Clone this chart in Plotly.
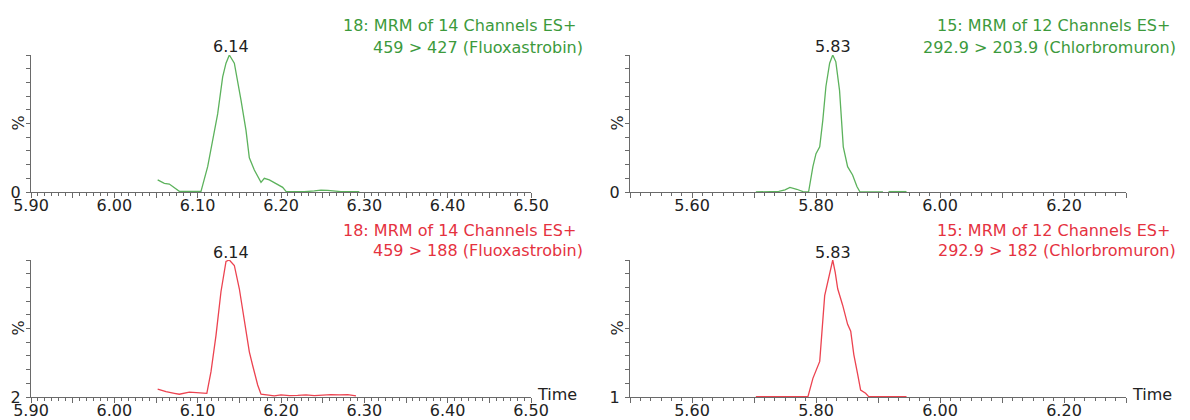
import plotly.graph_objects as go

# ---------------- data ----------------
t_fluo427 = [6.052, 6.060, 6.066, 6.074, 6.078, 6.090, 6.104, 6.112, 6.118, 6.124, 6.130, 6.134,
             6.138, 6.144, 6.152, 6.158, 6.162, 6.168, 6.176, 6.180, 6.186, 6.194, 6.202, 6.206,
             6.215, 6.228, 6.240, 6.248, 6.256, 6.264, 6.272, 6.282, 6.294]
i_fluo427 = [8.8, 6.3, 5.8, 2.0, 0.5, 0.4, 0.5, 18.5, 38, 57, 84, 94,
             100, 94, 67, 45, 25, 16, 7, 10, 8.8, 5.8, 3.4, 0.5,
             0.3, 0.2, 0.8, 1.4, 1.2, 0.6, 0.3, 0.2, 0.3]

t_fluo188 = [6.052, 6.062, 6.072, 6.078, 6.090, 6.100, 6.111, 6.116, 6.122, 6.128, 6.134, 6.138,
             6.144, 6.150, 6.156, 6.162, 6.166, 6.172, 6.176, 6.184, 6.192, 6.200, 6.210, 6.220,
             6.230, 6.240, 6.250, 6.260, 6.270, 6.280, 6.290]
i_fluo188 = [5.8, 3.9, 2.7, 2.0, 3.5, 3.0, 2.7, 18.5, 45, 77, 99, 100,
             96, 79, 57, 33, 23, 8.8, 2.0, 1.2, 0.8, 1.5, 1.0, 1.2,
             1.6, 1.0, 1.4, 1.8, 1.5, 1.8, 0.8]

t_chlor2039 = [5.703, 5.740, 5.750, 5.758, 5.769, 5.779, 5.788, 5.795, 5.800, 5.806, 5.811, 5.816,
               5.822, 5.827, 5.832, 5.838, 5.844, 5.851, 5.859, 5.866, 5.871, 5.890, 5.908, None,
               5.917, 5.946]
i_chlor2039 = [0.0, 0.5, 1.5, 3.4, 2.0, 0.3, 0.0, 18.5, 28, 33, 52.5, 77,
               94, 100, 95, 74, 33, 18.5, 12.4, 4.0, 0.0, 0.0, 0.0, None,
               0.3, 0.3]

t_chlor182 = [5.703, 5.730, 5.760, 5.787, 5.795, 5.803, 5.806, 5.814, 5.819, 5.827, 5.831, 5.835,
              5.843, 5.851, 5.856, 5.861, 5.867, 5.872, 5.880, 5.885, 5.910, 5.946]
i_chlor182 = [0.3, 0.2, 0.3, 0.2, 13.6, 23, 26, 74, 84, 100, 91, 79,
              67, 53, 48, 31, 17, 5, 2.7, 0.3, 0.3, 0.3]

peak_labels = ["6.14", "6.14", "5.83", "5.83"]
peak_times = [6.14, 6.14, 5.828, 5.828]
title_line1 = ["18: MRM of 14 Channels ES+", "18: MRM of 14 Channels ES+",
               "15: MRM of 12 Channels ES+", "15: MRM of 12 Channels ES+"]
title_line2 = ["459 > 427 (Fluoxastrobin)", "459 > 188 (Fluoxastrobin)",
               "292.9 > 203.9 (Chlorbromuron)", "292.9 > 182 (Chlorbromuron)"]
y_base_labels = ["0", "2", "0", "1"]
left_tick_vals = [5.90, 5.95, 6.00, 6.05, 6.10, 6.15, 6.20, 6.25, 6.30, 6.35, 6.40, 6.45, 6.50]
left_tick_text = ["5.90", "", "6.00", "", "6.10", "", "6.20", "", "6.30", "", "6.40", "", "6.50"]
right_tick_vals = [5.50, 5.60, 5.70, 5.80, 5.90, 6.00, 6.10, 6.20, 6.30]
right_tick_text = ["", "5.60", "", "5.80", "", "6.00", "", "6.20", ""]

# ---------------- styling ----------------
W, H = 1190, 420
FONT = "DejaVu Sans"
GREEN_TXT = "#3c9a3c"
GREEN_LINE = "#5cb25c"
RED_TXT = "#e5323f"
RED_LINE = "#ec4350"
AX = "#6a6a6a"

series = [
    (t_fluo427, i_fluo427, GREEN_LINE, GREEN_TXT),
    (t_fluo188, i_fluo188, RED_LINE, RED_TXT),
    (t_chlor2039, i_chlor2039, GREEN_LINE, GREEN_TXT),
    (t_chlor182, i_chlor182, RED_LINE, RED_TXT),
]

# pixel geometry of panels: (x_left, x_right, y_top, y_base)
panels = [
    (31, 531, 55, 192),
    (31, 531, 260, 397),
    (630, 1126, 55, 192),
    (630, 1126, 260, 397),
]
title_right = [(578, 585), (578, 585), (1172, 1178), (1172, 1178)]
title_y = [(25, 47), (230, 250), (25, 47), (230, 250)]

fig = go.Figure()
layout = dict(
    width=W, height=H, margin=dict(l=0, r=0, t=0, b=0, pad=0),
    paper_bgcolor="white", plot_bgcolor="white", showlegend=False,
    font=dict(family=FONT, size=16, color="#222222"),
)
annotations = []

for k, (tx, iy, lc, tc) in enumerate(series):
    n = "" if k == 0 else str(k + 1)
    xl, xr, yt, yb = panels[k]
    fig.add_trace(go.Scatter(x=tx, y=iy, mode="lines", line=dict(color=lc, width=1.3),
                             xaxis="x" + n, yaxis="y" + n, connectgaps=False,
                             hoverinfo="skip"))
    left = k < 2
    layout["xaxis" + n] = dict(
        domain=[xl / W, xr / W], anchor="y" + n,
        range=[5.90, 6.50] if left else [5.50, 6.30],
        tickmode="array",
        tickvals=left_tick_vals if left else right_tick_vals,
        ticktext=left_tick_text if left else right_tick_text,
        ticks="outside", ticklen=5, tickcolor=AX, tickwidth=1,
        minor=dict(ticks="outside", ticklen=3, tickcolor=AX,
                   dtick=(0.1 / 12 if left else 0.1 / 6),
                   tick0=(5.90 if left else 5.50), showgrid=False),
        showline=True, linecolor=AX, linewidth=1, showgrid=False, zeroline=False,
        tickfont=dict(family=FONT, size=16, color="#222222"),
        ticklabelstandoff=-6, automargin=False,
        fixedrange=True,
    )
    layout["yaxis" + n] = dict(
        domain=[(H - yb) / H, (H - yt) / H], anchor="x" + n,
        range=[0, 100], tickmode="array", tickvals=[0], ticktext=[y_base_labels[k]],
        ticks="outside", ticklen=4, tickcolor=AX,
        minor=dict(ticks="outside", ticklen=4, tickcolor=AX, dtick=10, tick0=0, showgrid=False),
        showline=True, linecolor=AX, linewidth=1, showgrid=False, zeroline=False,
        tickfont=dict(family=FONT, size=16, color="#222222"),
        ticklabelstandoff=2, automargin=False,
        fixedrange=True,
    )
    # peak label
    annotations.append(dict(x=peak_times[k], y=100, xref="x" + n, yref="y" + n,
                            text=peak_labels[k], showarrow=False, yanchor="middle",
                            xanchor="center", yshift=8,
                            font=dict(family=FONT, size=16, color="#222222")))
    # titles
    annotations.append(dict(x=title_right[k][0] / W, y=(H - title_y[k][0]) / H,
                            xref="paper", yref="paper", text=title_line1[k], showarrow=False,
                            xanchor="right", yanchor="middle",
                            font=dict(family=FONT, size=16, color=tc)))
    annotations.append(dict(x=title_right[k][1] / W, y=(H - title_y[k][1]) / H,
                            xref="paper", yref="paper", text=title_line2[k], showarrow=False,
                            xanchor="right", yanchor="middle",
                            font=dict(family=FONT, size=16, color=tc)))
    # % label
    annotations.append(dict(x=(xl - 13) / W, y=(H - (yt + yb) / 2) / H, xref="paper", yref="paper",
                            text="%", showarrow=False, textangle=-90,
                            xanchor="center", yanchor="middle",
                            font=dict(family=FONT, size=16, color="#222222")))
    # Time label on bottom panels
    if k in (1, 3):
        annotations.append(dict(x=(xr + 4) / W, y=(H - (yb - 3)) / H, xref="paper", yref="paper",
                                text="Time", showarrow=False, xanchor="left", yanchor="middle",
                                font=dict(family=FONT, size=16, color="#222222")))

layout["annotations"] = annotations
fig.update_layout(**layout)
fig.write_html("out.html")
